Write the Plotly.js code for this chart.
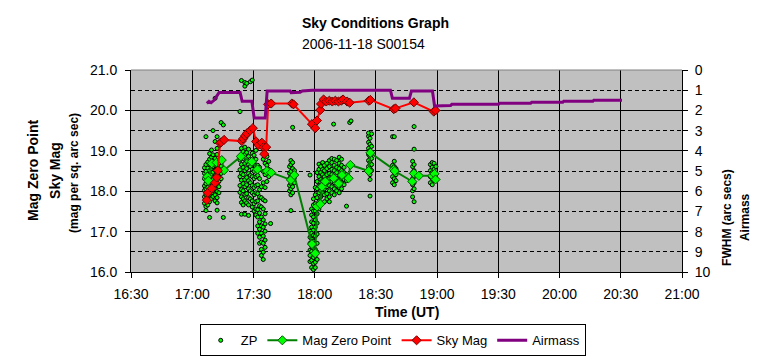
<!DOCTYPE html>
<html>
<head>
<meta charset="utf-8">
<script src="https://cdn.plot.ly/plotly-3.0.1.min.js"></script>
<style>html,body{margin:0;padding:0;background:#fff;}#chart{width:764px;height:358px;}</style>
</head>
<body>
<div id="chart"></div>
<script>
// ---- Data (time in decimal hours UT) ----
var xTickVals = [16.5, 17, 17.5, 18, 18.5, 19, 19.5, 20, 20.5, 21];
var xTickText = ['16:30', '17:00', '17:30', '18:00', '18:30', '19:00', '19:30', '20:00', '20:30', '21:00'];
var leftTickVals = [16, 17, 18, 19, 20, 21];
var leftTickText = ['16.0', '17.0', '18.0', '19.0', '20.0', '21.0'];

// ZP scatter: each column hour with the magnitudes read at that time
var zpColumnHours = [
  17.100, 17.112, 17.127, 17.142, 17.158, 17.170, 17.187, 17.203, 17.218, 17.236, 17.254,
  17.390, 17.402, 17.416, 17.430, 17.445, 17.460, 17.475, 17.490, 17.505, 17.520, 17.535, 17.550, 17.565, 17.580, 17.595, 17.610, 17.625, 17.640,
  17.795, 17.806, 17.820, 17.835,
  17.962, 17.975, 17.990, 18.005, 18.020, 18.035,
  18.050, 18.065, 18.080, 18.100, 18.120, 18.140, 18.155, 18.160, 18.180, 18.200, 18.220, 18.240, 18.260, 18.286, 18.297,
  18.440, 18.452, 18.465,
  18.636, 18.650, 18.664,
  18.800, 18.812,
  18.945, 18.960, 18.975, 18.990
];
var zpColumnMags = [
  [17.70, 17.86, 18.02, 18.13, 18.31, 18.44, 18.58],
  [17.52, 17.62, 17.77, 17.91, 18.06, 18.19, 18.36, 18.49, 18.66, 19.35],
  [17.66, 17.81, 17.97, 18.09, 18.24, 18.41, 18.57, 18.72],
  [17.35, 17.74, 17.92, 18.04, 18.21, 18.34, 18.51, 18.66, 18.79, 18.93],
  [17.82, 17.96, 18.11, 18.27, 18.42, 18.56, 18.71, 18.84, 19.02],
  [17.87, 18.01, 18.16, 18.29, 18.47, 18.61, 18.76, 18.90, 19.50],
  [17.76, 17.91, 18.06, 18.22, 18.36, 18.52, 18.64, 18.81, 19.23, 20.30],
  [17.53, 17.71, 17.84, 17.99, 18.16, 18.31, 18.46, 18.61, 18.74, 18.91, 19.06, 19.35],
  [17.96, 18.11, 18.24, 18.41, 18.56, 18.69],
  [18.31, 18.44, 18.62, 19.70],
  [17.35, 18.50, 19.64],
  [17.97, 18.14, 18.36, 18.53, 18.77, 19.97],
  [17.43, 17.72, 17.86, 18.04, 18.27, 18.44, 18.66, 18.84, 19.06, 20.74],
  [17.66, 17.81, 18.01, 18.19, 18.41, 18.59, 18.81, 18.98],
  [17.43, 17.76, 17.92, 18.11, 18.29, 18.51, 18.69, 18.91, 19.09, 20.60, 20.69],
  [17.71, 17.94, 18.16, 18.34, 18.56, 18.74, 18.96, 20.67],
  [17.40, 17.66, 17.84, 18.06, 18.26, 18.44, 18.66, 18.86, 19.04],
  [17.81, 18.01, 18.21, 18.39, 18.61, 18.79, 20.71],
  [17.61, 17.76, 17.96, 18.14, 18.36, 18.54, 18.76, 18.94, 20.75],
  [17.51, 17.69, 17.91, 18.09, 18.31, 18.49, 18.71, 18.89],
  [17.41, 17.56, 17.74, 17.96, 18.14, 18.36, 18.54, 18.79, 19.01],
  [16.96, 17.14, 17.36, 17.54, 17.76, 17.94, 18.16, 18.39, 18.64],
  [16.71, 16.86, 17.06, 17.24, 17.46, 17.64, 17.86, 18.04, 18.31, 18.59],
  [16.41, 16.56, 16.74, 16.96, 17.14, 17.36, 17.61, 17.84, 18.11],
  [16.31, 16.49, 16.71, 16.89, 17.11, 17.29, 17.56, 17.79, 18.21, 18.49, 18.79],
  [16.61, 16.79, 17.01, 17.19, 17.44, 17.76, 18.09, 18.41, 18.69],
  [18.24, 18.46, 18.64, 18.86],
  [18.36, 18.54, 18.74],
  [17.20],
  [18.01, 18.14, 18.31, 18.44, 18.61],
  [17.52, 17.91, 18.06, 18.19, 18.36, 18.49, 18.66, 18.76],
  [17.96, 18.11, 18.26, 18.39, 18.56, 18.71, 19.58],
  [18.21, 18.34, 18.51],
  [16.26, 16.41, 16.54, 16.71, 16.86, 17.01, 18.40],
  [16.11, 16.29, 16.51, 16.64, 16.81, 16.96, 17.11, 17.24, 17.41, 17.56],
  [16.06, 16.21, 16.36, 16.59, 16.76, 16.91, 17.04, 17.21, 17.36, 17.51, 17.66, 17.81],
  [16.11, 16.24, 16.41, 16.56, 16.71, 16.89, 17.11, 17.29, 17.51, 17.69, 17.91, 18.09],
  [16.31, 16.49, 16.71, 16.94, 17.21, 17.44, 17.66, 17.84, 18.06, 18.24, 18.46],
  [17.56, 17.74, 17.96, 18.14, 18.36, 18.54, 18.67],
  [17.86, 18.01, 18.16, 18.29, 18.46, 18.61],
  [17.96, 18.09, 18.26, 18.41, 18.54, 18.71],
  [17.74, 17.91, 18.06, 18.19, 18.36, 18.51, 18.64],
  [17.81, 17.94, 18.11, 18.24, 18.41, 18.56, 18.69],
  [17.74, 17.86, 18.01, 18.14, 18.31, 18.44, 18.61, 18.76],
  [17.96, 18.11, 18.24, 18.41, 18.54, 18.71, 18.81],
  [19.66],
  [17.91, 18.06, 18.21, 18.34, 18.51, 18.64, 18.79],
  [18.01, 18.14, 18.31, 18.46, 18.59, 18.76],
  [17.96, 18.09, 18.26, 18.39, 18.56, 18.69, 18.84],
  [18.06, 18.21, 18.34, 18.51, 18.64, 18.79],
  [18.16, 18.29, 18.46, 18.59],
  [17.63, 18.26, 18.41],
  [19.70],
  [19.74],
  [18.46, 18.61, 18.76, 18.91, 19.06, 19.21, 19.36, 19.44],
  [17.88, 18.29, 18.41, 18.56, 18.71, 18.86, 19.01, 19.16, 19.31],
  [18.51, 18.66, 18.81, 18.96, 19.11, 19.42],
  [18.21, 18.36, 18.51, 18.64, 19.35],
  [18.16, 18.31, 18.46, 18.61, 18.74, 19.35],
  [18.26, 18.41, 18.56],
  [17.86, 18.01, 18.16, 18.31, 18.46, 18.61, 18.74],
  [17.74, 18.06, 18.21, 18.36, 18.51, 18.66, 19.04, 19.60],
  [18.21, 18.36, 18.51, 18.66],
  [18.16, 18.31, 18.46, 18.59, 18.71],
  [18.26, 18.41, 18.54, 18.69],
  [18.31, 18.44, 18.61]
];

// Mag Zero Point (averaged) line
var mzpHours = [17.124, 17.132, 17.160, 17.200, 17.241, 17.260, 17.397, 17.487, 17.533, 17.610, 17.645, 17.806, 17.833, 17.978, 18.005, 18.019, 18.046, 18.060, 18.087, 18.155, 18.196, 18.223, 18.277, 18.291, 18.441, 18.455, 18.646, 18.654, 18.797, 18.810, 18.851, 18.960, 18.979, 18.987];
var mzpMag = [18.36, 18.26, 18.69, 18.71, 18.77, 18.52, 18.86, 18.73, 18.54, 18.50, 18.46, 18.28, 18.40, 16.69, 16.46, 17.62, 17.68, 18.11, 18.24, 18.32, 18.19, 18.40, 18.32, 18.65, 18.50, 18.95, 18.54, 18.50, 18.24, 18.44, 18.38, 18.38, 18.43, 18.29];

// Sky Mag line
var skyHours = [17.119, 17.127, 17.160, 17.187, 17.200, 17.209, 17.227, 17.236, 17.260, 17.405, 17.416, 17.432, 17.446, 17.473, 17.495, 17.522, 17.541, 17.569, 17.582, 17.588, 17.604, 17.620, 17.645, 17.814, 17.827, 17.978, 18.005, 18.019, 18.046, 18.052, 18.073, 18.095, 18.120, 18.144, 18.169, 18.194, 18.218, 18.232, 18.265, 18.286, 18.442, 18.455, 18.646, 18.660, 18.810, 18.973, 18.987];
var skyMag = [17.78, 17.96, 18.07, 18.21, 18.34, 18.51, 19.19, 19.21, 19.27, 19.24, 19.30, 19.37, 19.43, 19.50, 19.56, 19.23, 19.14, 19.20, 19.09, 18.92, 19.09, 20.15, 20.17, 20.17, 20.15, 19.66, 19.56, 19.75, 20.01, 20.16, 20.27, 20.22, 20.24, 20.22, 20.24, 20.22, 20.24, 20.27, 20.22, 20.19, 20.24, 20.26, 20.03, 20.05, 20.20, 19.97, 20.00];

// Airmass line (right axis)
var airHours = [17.119, 17.137, 17.154, 17.178, 17.219, 17.241, 17.391, 17.408, 17.487, 17.506, 17.596, 17.612, 17.800, 17.808, 17.882, 17.899, 17.980, 18.619, 18.635, 18.774, 18.790, 18.962, 18.979, 19.110, 19.120, 19.502, 19.510, 19.764, 19.772, 20.026, 20.034, 20.272, 20.280, 20.510];
var airmass = [1.65, 1.55, 1.62, 1.50, 1.12, 1.12, 1.12, 1.55, 1.55, 2.38, 2.38, 1.04, 1.04, 1.12, 1.10, 1.04, 1.00, 1.00, 1.40, 1.40, 1.04, 1.04, 1.78, 1.76, 1.70, 1.70, 1.65, 1.65, 1.60, 1.60, 1.55, 1.55, 1.50, 1.50];

// ---- Build ZP points from the columns ----
var zpX = [], zpY = [];
zpColumnHours.forEach(function (h, i) {
  zpColumnMags[i].forEach(function (m) { zpX.push(h); zpY.push(m); });
});

var FONT = 'Liberation Sans, Arial, sans-serif';

var traces = [
  { x: zpX, y: zpY, name: 'ZP', type: 'scatter', mode: 'markers',
    marker: { symbol: 'circle', size: 4, color: '#00ff00', line: { color: '#000000', width: 1 } } },
  { x: mzpHours, y: mzpMag, name: 'Mag Zero Point', type: 'scatter', mode: 'lines+markers',
    line: { color: '#008000', width: 2 },
    marker: { symbol: 'diamond', size: 7, color: '#00ff00', line: { color: '#005000', width: 1 } } },
  { x: skyHours, y: skyMag, name: 'Sky Mag', type: 'scatter', mode: 'lines+markers',
    line: { color: '#ff0000', width: 2 },
    marker: { symbol: 'diamond', size: 7, color: '#ff0000', line: { color: '#700000', width: 1 } } },
  { x: airHours, y: airmass, name: 'Airmass', type: 'scatter', mode: 'lines', yaxis: 'y2',
    line: { color: '#800080', width: 3 } }
];

var layout = {
  width: 764, height: 358,
  margin: { l: 131, r: 82, t: 70, b: 86, pad: 0 },
  paper_bgcolor: '#ffffff',
  plot_bgcolor: '#c0c0c0',
  font: { family: FONT, size: 14, color: '#000' },
  showlegend: true,
  legend: {
    orientation: 'h', xref: 'paper', x: 0.475, xanchor: 'center',
    yref: 'container', y: 0.094, yanchor: 'top',
    bordercolor: '#000', borderwidth: 1, bgcolor: '#fff',
    font: { family: FONT, size: 13, color: '#000' }, itemwidth: 30, tracegroupgap: 0
  },
  xaxis: {
    range: [16.5, 21], tickmode: 'array', tickvals: xTickVals, ticktext: xTickText,
    showgrid: true, gridcolor: '#000', gridwidth: 1,
    showline: true, linecolor: '#000', linewidth: 1,
    ticks: 'outside', ticklen: 5, tickcolor: '#000', ticklabelstandoff: 4,
    tickfont: { family: FONT, size: 14 }, zeroline: false, automargin: false
  },
  yaxis: {
    range: [16, 21], tickmode: 'array', tickvals: leftTickVals, ticktext: leftTickText,
    showgrid: true, gridcolor: '#000', gridwidth: 1,
    minor: { tickmode: 'array', tickvals: [16.5, 17.5, 18.5, 19.5, 20.5], showgrid: true, gridcolor: '#000', gridwidth: 1, griddash: '4px,3px', ticks: '' },
    showline: true, linecolor: '#000', linewidth: 1,
    ticks: 'outside', ticklen: 5, tickcolor: '#000', ticklabelstandoff: 5,
    tickfont: { family: FONT, size: 14 }, zeroline: false, automargin: false
  },
  yaxis2: {
    range: [10, 0], overlaying: 'y', side: 'right', dtick: 1, tick0: 0,
    showgrid: false, zeroline: false,
    showline: true, linecolor: '#000', linewidth: 1,
    ticks: 'outside', ticklen: 5, tickcolor: '#000', ticklabelstandoff: 4,
    tickfont: { family: FONT, size: 14 }, automargin: false
  },
  shapes: [
    { type: 'line', xref: 'paper', yref: 'paper', x0: 0, x1: 1, y0: 1, y1: 1, line: { color: '#808080', width: 1 } }
  ],
  annotations: [
    { text: '<b>Sky Conditions Graph</b>', xref: 'paper', yref: 'paper', x: 0.307, y: 1.233, xanchor: 'left', yanchor: 'middle', showarrow: false, font: { family: FONT, size: 14 } },
    { text: '2006-11-18 S00154', xref: 'paper', yref: 'paper', x: 0.307, y: 1.129, xanchor: 'left', yanchor: 'middle', showarrow: false, font: { family: FONT, size: 14 } },
    { text: '<b>Time (UT)</b>', xref: 'paper', yref: 'paper', x: 0.5, y: -0.198, xanchor: 'center', yanchor: 'middle', showarrow: false, font: { family: FONT, size: 14 } },
    { text: '<b>Mag Zero Point</b>', xref: 'paper', yref: 'paper', x: -0.178, y: 0.505, xanchor: 'center', yanchor: 'middle', textangle: -90, showarrow: false, font: { family: FONT, size: 14 } },
    { text: '<b>Sky Mag</b>', xref: 'paper', yref: 'paper', x: -0.138, y: 0.505, xanchor: 'center', yanchor: 'middle', textangle: -90, showarrow: false, font: { family: FONT, size: 14 } },
    { text: '<b>(mag per sq. arc sec)</b>', xref: 'paper', yref: 'paper', x: -0.1036, y: 0.49, xanchor: 'center', yanchor: 'middle', textangle: -90, showarrow: false, font: { family: FONT, size: 12 } },
    { text: '<b>FWHM (arc secs)</b>', xref: 'paper', yref: 'paper', x: 1.0825, y: 0.27, xanchor: 'center', yanchor: 'middle', textangle: -90, showarrow: false, font: { family: FONT, size: 12 } },
    { text: '<b>Airmass</b>', xref: 'paper', yref: 'paper', x: 1.1155, y: 0.27, xanchor: 'center', yanchor: 'middle', textangle: -90, showarrow: false, font: { family: FONT, size: 12 } }
  ]
};

Plotly.newPlot('chart', traces, layout, { displayModeBar: false, staticPlot: true });
</script>
</body>
</html>
